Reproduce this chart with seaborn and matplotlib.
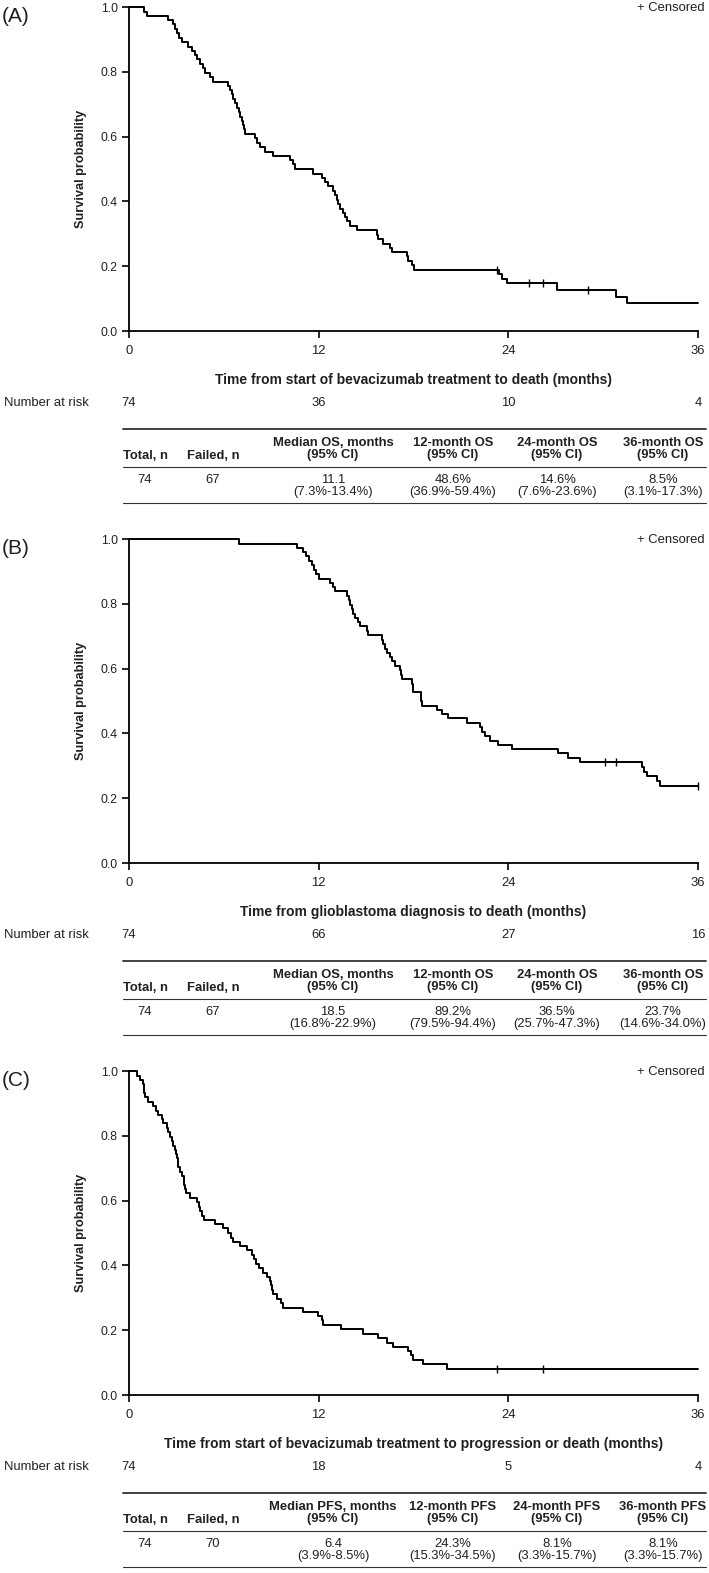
import numpy as np
import pandas as pd
import matplotlib
matplotlib.use('Agg')
import matplotlib.pyplot as plt
from matplotlib.lines import Line2D
import seaborn as sns

# (A) OS from start of bevacizumab treatment
a_time = [0.95, 1.12, 2.49, 2.80, 2.90, 3.02, 3.18, 3.33, 3.75, 3.96, 4.18, 4.32, 4.49, 4.66,
          4.81, 5.12, 5.33, 6.28, 6.39, 6.50, 6.60, 6.70, 6.81, 6.98, 7.05, 7.13, 7.20, 7.27,
          7.34, 7.97, 8.08, 8.29, 8.60, 9.13, 10.19, 10.40, 10.50, 11.62, 12.19, 12.40, 12.61,
          12.93, 13.03, 13.14, 13.25, 13.35, 13.56, 13.67, 13.77, 13.98, 14.40, 15.67, 15.75,
          16.09, 16.50, 16.62, 17.60, 17.68, 17.90, 18.00, 23.43, 23.60, 23.94, 27.10, 30.79,
          31.49]
a_surv = [0.986, 0.973, 0.959, 0.946, 0.932, 0.919, 0.905, 0.892, 0.878, 0.865, 0.851, 0.838,
          0.824, 0.811, 0.797, 0.784, 0.770, 0.757, 0.743, 0.730, 0.716, 0.703, 0.689, 0.676,
          0.662, 0.649, 0.635, 0.622, 0.608, 0.595, 0.581, 0.568, 0.554, 0.541, 0.527, 0.514,
          0.500, 0.486, 0.473, 0.459, 0.446, 0.432, 0.419, 0.405, 0.392, 0.378, 0.365, 0.351,
          0.338, 0.324, 0.311, 0.297, 0.284, 0.270, 0.257, 0.243, 0.230, 0.216, 0.203, 0.189,
          0.176, 0.162, 0.147, 0.126, 0.106, 0.085]
a_cens = [23.26, 25.31, 26.18, 29.06]
a_risk = [74, 36, 10, 4]

# (B) OS from glioblastoma diagnosis
b_time = [6.98, 10.60, 11.00, 11.20, 11.40, 11.56, 11.70, 11.80, 12.02, 12.72, 12.90, 13.03,
          13.77, 13.90, 13.98, 14.08, 14.20, 14.30, 14.50, 14.60, 15.04, 15.10, 15.99, 16.09,
          16.20, 16.30, 16.51, 16.62, 16.83, 17.14, 17.20, 17.25, 17.90, 17.95, 17.99, 18.45,
          18.50, 18.52, 19.47, 19.78, 20.20, 21.36, 22.20, 22.35, 22.52, 22.84, 23.36, 24.21,
          27.17, 27.80, 28.53, 32.43, 32.60, 32.75, 33.38, 33.59]
b_surv = [0.986, 0.973, 0.959, 0.946, 0.932, 0.919, 0.905, 0.892, 0.878, 0.865, 0.851, 0.838,
          0.824, 0.811, 0.797, 0.784, 0.770, 0.757, 0.743, 0.730, 0.716, 0.703, 0.689, 0.676,
          0.662, 0.649, 0.635, 0.622, 0.608, 0.595, 0.581, 0.568, 0.554, 0.541, 0.527, 0.514,
          0.500, 0.486, 0.473, 0.459, 0.446, 0.432, 0.419, 0.405, 0.392, 0.378, 0.365, 0.351,
          0.338, 0.324, 0.311, 0.296, 0.281, 0.267, 0.253, 0.239]
b_cens = [30.11, 30.79, 36.0]
b_risk = [74, 66, 27, 16]

# (C) PFS from start of bevacizumab treatment
c_time = [0.49, 0.70, 0.86, 0.92, 0.96, 1.01, 1.22, 1.50, 1.71, 1.86, 2.07, 2.17, 2.38, 2.49,
          2.60, 2.70, 2.80, 2.91, 2.96, 3.02, 3.07, 3.12, 3.23, 3.37, 3.45, 3.50, 3.55, 3.61,
          3.86, 4.32, 4.43, 4.52, 4.60, 4.74, 5.44, 5.97, 6.28, 6.45, 6.60, 7.02, 7.44, 7.76,
          7.90, 8.03, 8.25, 8.46, 8.71, 8.92, 9.00, 9.05, 9.09, 9.38, 9.60, 9.76, 10.99, 11.98,
          12.20, 12.29, 13.39, 14.78, 15.78, 16.30, 16.68, 17.67, 17.85, 17.95, 18.62, 20.10]
c_surv = [0.986, 0.973, 0.959, 0.946, 0.932, 0.919, 0.905, 0.892, 0.878, 0.865, 0.851, 0.838,
          0.824, 0.811, 0.797, 0.784, 0.770, 0.757, 0.743, 0.730, 0.716, 0.703, 0.689, 0.676,
          0.662, 0.649, 0.635, 0.622, 0.608, 0.595, 0.581, 0.568, 0.554, 0.541, 0.527, 0.514,
          0.500, 0.486, 0.473, 0.459, 0.446, 0.432, 0.419, 0.405, 0.392, 0.378, 0.365, 0.351,
          0.338, 0.324, 0.311, 0.297, 0.284, 0.270, 0.257, 0.243, 0.230, 0.216, 0.203, 0.189,
          0.176, 0.162, 0.149, 0.135, 0.122, 0.108, 0.095, 0.081]
c_cens = [23.26, 26.17]
c_risk = [74, 18, 5, 4]

x_ticks = [0, 12, 24, 36]
x_labels = ['Time from start of bevacizumab treatment to death (months)',
            'Time from glioblastoma diagnosis to death (months)',
            'Time from start of bevacizumab treatment to progression or death (months)']
panel_tags = ['(A)', '(B)', '(C)']

table_heads = [
    ['Total, n', 'Failed, n', 'Median OS, months\n(95% CI)', '12-month OS\n(95% CI)',
     '24-month OS\n(95% CI)', '36-month OS\n(95% CI)'],
    ['Total, n', 'Failed, n', 'Median OS, months\n(95% CI)', '12-month OS\n(95% CI)',
     '24-month OS\n(95% CI)', '36-month OS\n(95% CI)'],
    ['Total, n', 'Failed, n', 'Median PFS, months\n(95% CI)', '12-month PFS\n(95% CI)',
     '24-month PFS\n(95% CI)', '36-month PFS\n(95% CI)'],
]
table_vals = [
    ['74', '67', '11.1\n(7.3%-13.4%)', '48.6%\n(36.9%-59.4%)', '14.6%\n(7.6%-23.6%)',
     '8.5%\n(3.1%-17.3%)'],
    ['74', '67', '18.5\n(16.8%-22.9%)', '89.2%\n(79.5%-94.4%)', '36.5%\n(25.7%-47.3%)',
     '23.7%\n(14.6%-34.0%)'],
    ['74', '70', '6.4\n(3.9%-8.5%)', '24.3%\n(15.3%-34.5%)', '8.1%\n(3.3%-15.7%)',
     '8.1%\n(3.3%-15.7%)'],
]

sns.set_style('ticks')
plt.rcParams['font.family'] = ['Liberation Sans', 'DejaVu Sans']
INK = '#231f20'
SMALL = 9.4

W, H = 709, 1573
fig = plt.figure(figsize=(W / 100, H / 100), dpi=100)


def fx(x):
    return x / W


def fy(y):
    return 1 - y / H


col_x = [145, 213, 333, 453, 557, 663]
ax_left, ax_right = 129, 698
bottoms = [331, 863, 1395]
panels = [(a_time, a_surv, a_cens, a_risk), (b_time, b_surv, b_cens, b_risk),
          (c_time, c_surv, c_cens, c_risk)]

for i, (tt, ss, cens, risk) in enumerate(panels):
    yb = bottoms[i]
    yt = yb - 324
    ax = fig.add_axes([fx(ax_left), fy(yb), fx(ax_right - ax_left), 324 / H])
    t_full = np.array([0.0] + tt + [36.0])
    s_full = np.array([1.0] + ss + [ss[-1]])
    df = pd.DataFrame({'time': t_full, 'surv': s_full})
    sns.lineplot(data=df, x='time', y='surv', drawstyle='steps-post', estimator=None,
                 color='black', lw=1.4, ax=ax)
    for ln in ax.lines:
        ln.set_clip_on(False)
    # censor marks sit on the curve at their time
    idx = np.searchsorted(t_full, cens, side='right') - 1
    cdf = pd.DataFrame({'time': cens, 'surv': s_full[idx]})
    sns.scatterplot(data=cdf, x='time', y='surv', marker='|', s=30, linewidth=1.0,
                    color='black', ax=ax, clip_on=False, zorder=3)
    ax.set_xlim(0, 36)
    ax.set_ylim(0, 1)
    ax.set_xticks(x_ticks)
    ax.set_yticks([0, 0.2, 0.4, 0.6, 0.8, 1.0])
    ax.set_yticklabels(['0.0', '0.2', '0.4', '0.6', '0.8', '1.0'], fontsize=8.8, color=INK)
    ax.set_xticklabels([str(v) for v in x_ticks], fontsize=SMALL, color=INK)
    ax.tick_params(axis='both', length=5, width=1.2, color='black', pad=3)
    ax.tick_params(axis='x', pad=5)
    sns.despine(ax=ax)
    for sp in ['left', 'bottom']:
        ax.spines[sp].set_linewidth(1.3)
        ax.spines[sp].set_color('black')
    ax.set_xlabel('')
    ax.set_ylabel('Survival probability', fontsize=9.2, fontweight='bold', color=INK,
                  labelpad=10)

    fig.text(fx(2), fy(yt + 10), panel_tags[i], fontsize=15, color=INK, va='center', ha='left')
    fig.text(fx(705), fy(yt + 1), '+ Censored', fontsize=9.4, color=INK, va='center',
             ha='right')
    fig.text(fx((ax_left + ax_right) / 2), fy(yb + 49), x_labels[i], fontsize=10,
             fontweight='bold', color=INK, ha='center', va='center')
    fig.text(fx(4), fy(yb + 72), 'Number at risk', fontsize=SMALL, color=INK,
             ha='left', va='center')
    for k, n in enumerate(risk):
        xp = ax_left + (ax_right - ax_left) * x_ticks[k] / 36
        fig.text(fx(xp), fy(yb + 72), str(n), fontsize=SMALL, color=INK,
                 ha='center', va='center')

    for yl, lw in [(yb + 98, 1.3), (yb + 136, 0.8), (yb + 172, 0.8)]:
        fig.add_artist(Line2D([fx(123), fx(706)], [fy(yl), fy(yl)], color='#333333', lw=lw,
                              transform=fig.transFigure))
    for k, cx in enumerate(col_x):
        head = table_heads[i][k]
        ylab = yb + 125 if '\n' not in head else yb + 118
        fig.text(fx(cx), fy(ylab), head, fontsize=SMALL, fontweight='bold',
                 color=INK, ha='center', va='center', linespacing=1.05)
        val = table_vals[i][k]
        yv = yb + 149 if '\n' not in val else yb + 155
        fig.text(fx(cx), fy(yv), val, fontsize=SMALL, color=INK,
                 ha='center', va='center', linespacing=1.0)

fig.savefig('out.png', dpi=100)
